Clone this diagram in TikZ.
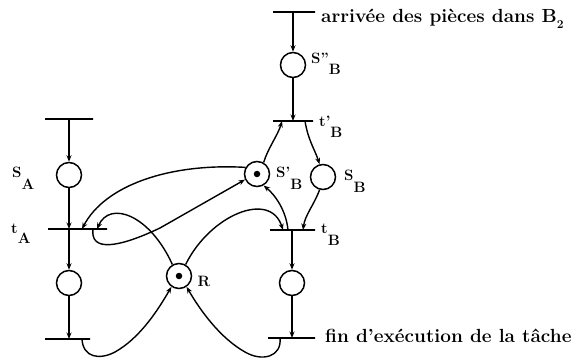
\documentclass[tikz,border=0pt]{standalone}
\usetikzlibrary{arrows.meta}
\begin{document}
\begin{tikzpicture}[x=1pt,y=-1pt,
  place/.style={circle,draw,line width=1.5pt,minimum size=25pt,inner sep=0pt},
  trans/.style={draw,line width=1.4pt,rectangle,minimum height=0pt,inner sep=0pt},
  arc/.style={line width=1.4pt,-{Stealth[length=6.5pt,width=5pt]}},
  lbl/.style={font=\fontsize{15}{17}\selectfont\bfseries,inner sep=0pt,anchor=base west},
  txt/.style={font=\fontsize{19}{22}\selectfont\bfseries,inner sep=0pt,anchor=base west},
  tok/.style={circle,fill,inner sep=0pt,minimum size=6.5pt}]
\useasboundingbox (0,0) rectangle (575,358);
% left branch
\node[trans,minimum width=48pt] (TA0) at (69,119) {};
\node[place] (SA) at (69,175) {};
\node[trans,minimum width=59pt] (tA) at (77.5,229) {};
\node[place] (PA2) at (69,283) {};
\node[trans,minimum width=45pt] (TA3) at (67.5,339) {};
% right branch
\node[trans,minimum width=42pt] (TB0) at (294,12) {};
\node[place] (SB2) at (293,65) {};
\node[trans,minimum width=40pt] (tBp) at (293,121) {};
\node[place] (SBp) at (257,174) {};
\node[place] (SB) at (323,177) {};
\node[trans,minimum width=45pt] (tB) at (292.5,230) {};
\node[place] (PB2) at (292,283) {};
\node[trans,minimum width=47pt] (TB3) at (291.5,338) {};
% resource
\node[place] (R) at (179,276) {};
\node[tok] (tokS) at (SBp) {};
\node[tok] (tokR) at (R) {};
% connection points on transitions
\coordinate (tAin1) at (82,229);
\coordinate (tAin2) at (97,229);
\coordinate (tAout) at (93,229);
\coordinate (tBin1) at (283,230);
\coordinate (tBin2) at (303,230);
\coordinate (tBout) at (288,230);
\coordinate (tBpin) at (282,121);
\coordinate (tBpout) at (305,121);
\coordinate (TA3out) at (82,339);
\coordinate (TB3out) at (280,338);
% vertical arcs
\draw[arc] (SA |- TA0) -- (SA);
\draw[arc] (SA) -- (SA |- tA);
\draw[arc] (SA |- tA) -- (PA2);
\draw[arc] (PA2) -- (PA2 |- TA3);
\draw[arc] (SB2 |- TB0) -- (SB2);
\draw[arc] (SB2) -- (SB2 |- tBp);
\draw[arc] (PB2 |- tB) -- (PB2);
\draw[arc] (PB2) -- (PB2 |- TB3);
% curved arcs
\draw[arc] (SBp.150) .. controls (170,163) and (105,185) .. (tAin1);
\draw[arc] (tAout) .. controls (90,252) and (118,248) .. (160,228) -- (SBp.205);
\draw[arc] (R.120) .. controls (150,215) and (110,200) .. (tAin2);
\draw[arc] (R.60) .. controls (210,215) and (270,190) .. (tBin1);
\draw[arc] (TA3out) .. controls (83,358) and (100,360) .. (115,352) .. controls (140,338) and (158,310) .. (R.235);
\draw[arc] (TB3out) .. controls (282,357) and (262,362) .. (245,352) .. controls (220,338) and (200,310) .. (R.305);
\draw[arc] (SBp.60) .. controls (268,148) and (278,135) .. (tBpin);
\draw[arc] (tBpout) .. controls (308,140) and (315,150) .. (SB.105);
\draw[arc] (SB.255) .. controls (314,205) and (305,215) .. (tBin2);
\draw[arc] (tBout) .. controls (286,210) and (275,195) .. (SBp.300);
% labels
\node[lbl] (lSA) at (12,178) {S\raisebox{-12pt}{A}};
\node[lbl] (ltA) at (11,233) {t\raisebox{-10pt}{A}};
\node[lbl] (lSB2) at (311,64) {S''\raisebox{-11pt}{B}};
\node[lbl] (ltBp) at (319,127) {t'\raisebox{-11pt}{B}};
\node[lbl] (lSBp) at (276,178) {S'\raisebox{-12pt}{B}};
\node[lbl] (lSB) at (344,180) {S\raisebox{-13pt}{B}};
\node[lbl] (ltB) at (321,233) {t\raisebox{-13pt}{B}};
\node[lbl,anchor=center] (lR) at (204,281) {R};
\node[txt] (arr) at (321,23) {arrivée des pièces dans B\raisebox{-6pt}{\fontsize{12}{12}\selectfont 2}};
\node[txt] (fin) at (325,342) {fin d'exécution de la tâche};
\end{tikzpicture}
\end{document}
